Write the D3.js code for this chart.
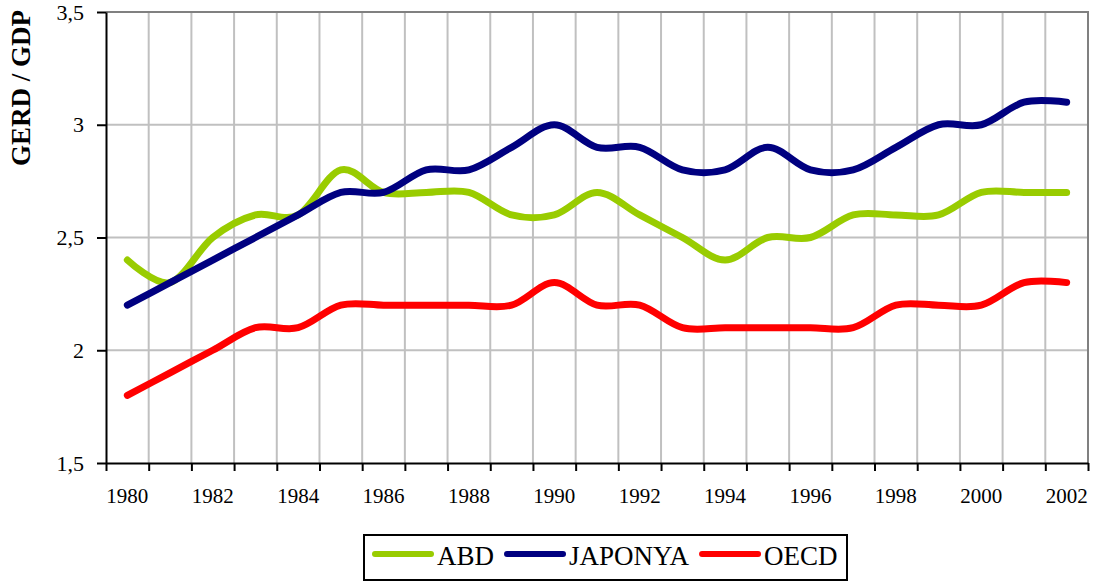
<!DOCTYPE html>
<html>
<meta charset="utf-8">
<style>
  body { margin: 0; padding: 0; background: #fff; }
  svg { display: block; }
  text { font-family: "Liberation Serif", "Times New Roman", serif; fill: #000; }
  .grid line { stroke: #c0c0c0; stroke-width: 2px; }
  .axis path, .axis line { stroke: #000; stroke-width: 2px; }
  .line { fill: none; stroke-width: 7px; stroke-linecap: round; stroke-linejoin: round; }
</style>
<body>
<svg id="chart" width="1099" height="582"></svg>
<script src="https://cdn.jsdelivr.net/npm/d3@7"></script>
<script>
// data
var years = [1980, 1981, 1982, 1983, 1984, 1985, 1986, 1987, 1988, 1989, 1990, 1991,
             1992, 1993, 1994, 1995, 1996, 1997, 1998, 1999, 2000, 2001, 2002];
var abd     = [2.4, 2.3, 2.5, 2.6, 2.6, 2.8, 2.7, 2.7, 2.7, 2.6, 2.6, 2.7,
               2.6, 2.5, 2.4, 2.5, 2.5, 2.6, 2.6, 2.6, 2.7, 2.7, 2.7];
var japonya = [2.2, 2.3, 2.4, 2.5, 2.6, 2.7, 2.7, 2.8, 2.8, 2.9, 3.0, 2.9,
               2.9, 2.8, 2.8, 2.9, 2.8, 2.8, 2.9, 3.0, 3.0, 3.1, 3.1];
var oecd    = [1.8, 1.9, 2.0, 2.1, 2.1, 2.2, 2.2, 2.2, 2.2, 2.2, 2.3, 2.2,
               2.2, 2.1, 2.1, 2.1, 2.1, 2.1, 2.2, 2.2, 2.2, 2.3, 2.3];
var seriesNames = ["ABD", "JAPONYA", "OECD"];
var seriesColors = ["#99cc00", "#000080", "#ff0000"];
var yTicks = [1.5, 2, 2.5, 3, 3.5];
var yTitle = "GERD / GDP";

var series = [abd, japonya, oecd].map(function(vals, i) {
  return { name: seriesNames[i], color: seriesColors[i],
           values: vals.map(function(v, j) { return { year: years[j], value: v }; }) };
});

var serif = "'Liberation Serif', 'Times New Roman', serif";

var svg = d3.select("#chart"),
    margin = {top: 12, right: 11, bottom: 119, left: 106},
    width = 1099 - margin.left - margin.right,
    height = 582 - margin.top - margin.bottom,
    g = svg.append("g").attr("transform", "translate(" + margin.left + "," + margin.top + ")");

var x = d3.scaleBand().domain(years).range([0, width]);
var xEdge = d3.scaleLinear().domain([0, years.length]).range([0, width]);
var y = d3.scaleLinear().domain([1.5, 3.5]).range([height, 0]);

var trFmt = d3.formatLocale({decimal: ",", thousands: ".", grouping: [3], currency: ["", ""]}).format("~g");

// grid
g.append("g").attr("class", "grid")
  .selectAll("line").data(d3.range(1, years.length)).enter().append("line")
  .attr("x1", function(d) { return xEdge(d); }).attr("x2", function(d) { return xEdge(d); })
  .attr("y1", 0).attr("y2", height);
g.append("g").attr("class", "grid")
  .selectAll("line").data(yTicks.slice(1, -1)).enter().append("line")
  .attr("x1", 0).attr("x2", width)
  .attr("y1", function(d) { return y(d); }).attr("y2", function(d) { return y(d); });

// top and right frame
g.append("path")
  .attr("d", "M0," + y(3.5) + "H" + width + "V" + height)
  .attr("fill", "none").attr("stroke", "#808080").attr("stroke-width", 2);

// x axis: ticks on band edges, labels on every other band centre
g.append("g").attr("class", "axis")
  .attr("transform", "translate(0," + height + ")")
  .call(d3.axisBottom(xEdge).tickValues(d3.range(0, years.length + 1)).tickSize(8).tickSizeOuter(0).tickFormat(""));
g.append("g").attr("class", "axis axis--xlab")
  .attr("transform", "translate(0," + height + ")")
  .call(d3.axisBottom(x).tickSize(0).tickPadding(25)
        .tickFormat(function(d) { return d % 2 === 0 ? d : ""; }))
  .call(function(a) { a.select(".domain").remove(); })
  .selectAll("text").style("font-family", serif).style("font-size", "21px");

// y axis
g.append("g").attr("class", "axis")
  .call(d3.axisLeft(y).tickValues(yTicks).tickSize(9).tickSizeOuter(0).tickPadding(13).tickFormat(trFmt))
  .selectAll("text").style("font-family", serif).style("font-size", "22px");

svg.append("text")
  .attr("transform", "translate(30,88) rotate(-90)")
  .attr("text-anchor", "middle")
  .style("font-family", serif)
  .style("font-size", "27px").style("font-weight", "bold")
  .text(yTitle);

// lines
var line = d3.line()
  .curve(d3.curveCardinal.tension(0))
  .x(function(d) { return x(d.year) + x.bandwidth() / 2; })
  .y(function(d) { return y(d.value); });

g.selectAll(".line").data(series).enter().append("path")
  .attr("class", "line")
  .attr("d", function(d) { return line(d.values); })
  .style("stroke", function(d) { return d.color; });

// legend
var legend = svg.append("g");
legend.append("rect")
  .attr("x", 364).attr("y", 535).attr("width", 483).attr("height", 45)
  .attr("fill", "#fff").attr("stroke", "#000").attr("stroke-width", 2);
var lx = 372;
series.forEach(function(s) {
  legend.append("line")
    .attr("x1", lx + 3).attr("x2", lx + 59).attr("y1", 554).attr("y2", 554)
    .attr("stroke", s.color).attr("stroke-width", 6).attr("stroke-linecap", "round");
  var t = legend.append("text")
    .attr("x", lx + 65).attr("y", 565)
    .style("font-family", serif)
    .style("font-size", "27px")
    .text(s.name);
  lx = lx + 65 + t.node().getComputedTextLength() + 10;
});
</script>
</body>
</html>
